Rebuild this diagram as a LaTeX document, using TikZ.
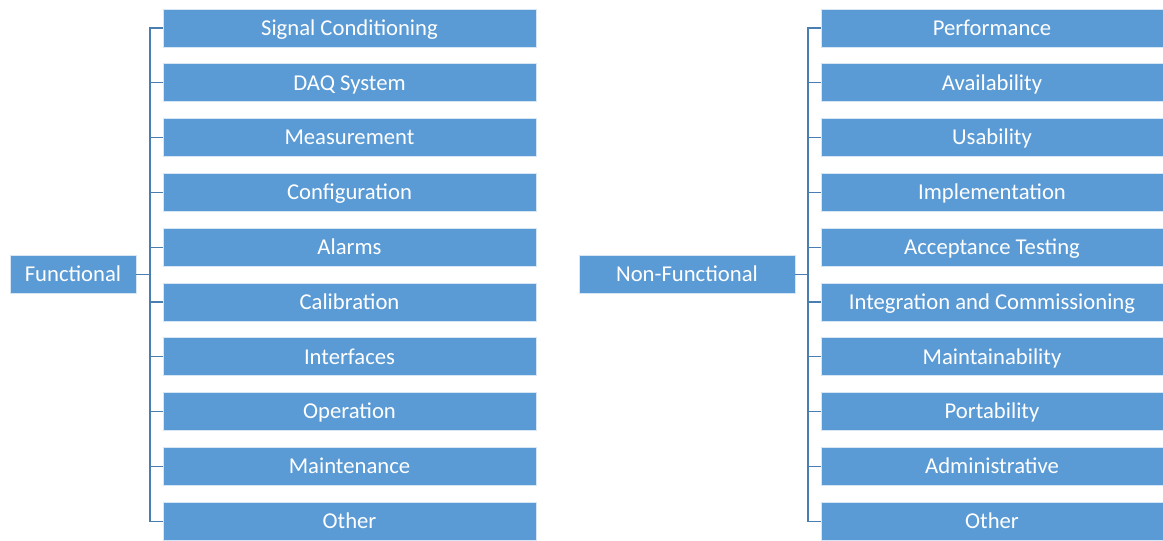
\documentclass[tikz,border=0pt]{standalone}
\usepackage{fontspec}
\setmainfont{Carlito}
\definecolor{boxblue}{HTML}{5B9BD5}
\definecolor{linkblue}{HTML}{4A7EB0}

\tikzset{
  item/.style={fill=boxblue, draw=white!75!boxblue, line width=0.6pt, text=white,
    minimum height=28.5pt, inner sep=0pt, text height=12pt, text depth=1pt,
    font=\fontsize{17}{19}\selectfont},
  link/.style={draw=linkblue, line width=1pt}
}

\begin{document}
\begin{tikzpicture}[x=0.75pt, y=-0.75pt]
        \useasboundingbox (0,0) rectangle (1163,540);

        % Wurzelknoten
        \node[item, minimum width=94.5pt] (func) at (73,274.5) {Functional};
        \node[item, minimum width=162pt] (nonfunc) at (687,274.5) {Non-Functional};

        % Linke Liste
        \foreach \name [count=\i] in {Signal Conditioning, DAQ System, Measurement,
            Configuration, Alarms, Calibration, Interfaces, Operation, Maintenance, Other}
          \node[item, minimum width=279.75pt] (l\i) at (349.5,{28+54.8*(\i-1)}) {\name};

        % Rechte Liste
        \foreach \name [count=\i] in {Performance, Availability, Usability, Implementation,
            Acceptance Testing, Integration and Commissioning, Maintainability, Portability,
            Administrative, Other}
          \node[item, minimum width=256.5pt] (r\i) at (992,{28+54.8*(\i-1)}) {\name};

        % Verbindungen
        \coordinate (ltrunk) at (150,274.5);
        \coordinate (rtrunk) at (808,274.5);
        \draw[link] (func) -- (ltrunk);
        \draw[link] (nonfunc) -- (rtrunk);
        \foreach \i in {1,...,10} {
          \draw[link] (ltrunk) |- (l\i.west);
          \draw[link] (rtrunk) |- (r\i.west);
        }
\end{tikzpicture}
\end{document}
